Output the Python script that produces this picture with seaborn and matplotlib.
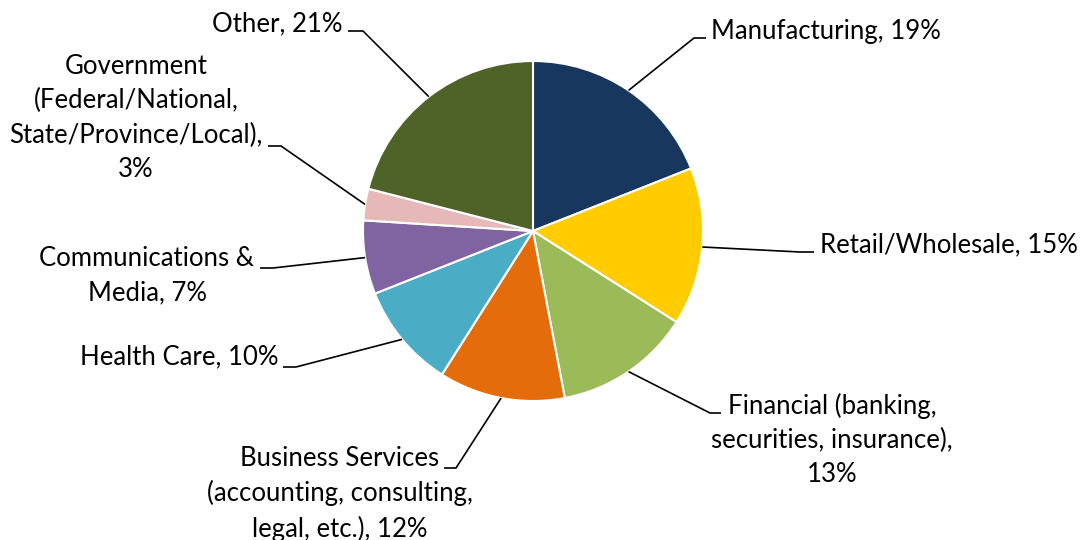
import numpy as np
import matplotlib
matplotlib.use("Agg")
import matplotlib.pyplot as plt
import seaborn as sns

# Industry share data
labels = [
    "Manufacturing, 19%",
    "Retail/Wholesale, 15%",
    "Financial (banking,\nsecurities, insurance),\n13%",
    "Business Services\n(accounting, consulting,\nlegal, etc.), 12%",
    "Health Care, 10%",
    "Communications &\nMedia, 7%",
    "Government\n(Federal/National,\nState/Province/Local),\n3%",
    "Other, 21%",
]
shares = [19, 15, 13, 12, 10, 7, 3, 21]
colors = ["#17375E", "#FFCC00", "#9BBB59", "#E46C0A", "#4BACC6", "#8064A2", "#E6B9B8", "#4F6228"]

# label layout in pixel coords: text anchor, alignment, leader elbow, leader end
label_pos = [
    ((711, 31), "left", (694, 38), (706, 38)),
    ((820, 245), "left", (800, 252), (814, 252)),
    ((832, 440), "center", (710, 413), (721, 413)),
    ((340, 494), "center", (456, 468), (444, 468)),
    ((278, 357), "right", (296, 367), (283, 367)),
    ((147, 276), "center", (273, 268), (260, 268)),
    ((136, 118), "center", (281, 146), (268, 146)),
    ((343, 24), "right", (363, 31), (348, 31)),
]

sns.set_theme(style="white")
plt.rcParams["font.family"] = ["Lato", "DejaVu Sans"]

fig = plt.figure(figsize=(10.82, 5.40), dpi=100)
ax = fig.add_axes([0, 0, 1, 1])

cx, cy, r = 533, 231, 170
wedges, _ = ax.pie(
    shares,
    colors=sns.color_palette(colors),
    startangle=-90,
    counterclock=True,
    center=(cx, cy),
    radius=r,
    wedgeprops=dict(edgecolor="white", linewidth=1.5),
)
ax.set_xlim(0, 1082)
ax.set_ylim(540, 0)
ax.set_aspect("equal")
ax.axis("off")

for w, text, (tpos, ha, elbow, end) in zip(wedges, labels, label_pos):
    mid = np.deg2rad((w.theta1 + w.theta2) / 2)
    sx = cx + r * np.cos(mid)
    sy = cy + r * np.sin(mid)
    ax.plot([sx, elbow[0], end[0]], [sy, elbow[1], end[1]], color="black", lw=1.2,
            solid_capstyle="butt")
    ax.text(tpos[0], tpos[1], text, ha=ha, va="center", multialignment="center",
            fontsize=18.5, color="black", linespacing=1.45)

fig.savefig("out.png", dpi=100)
